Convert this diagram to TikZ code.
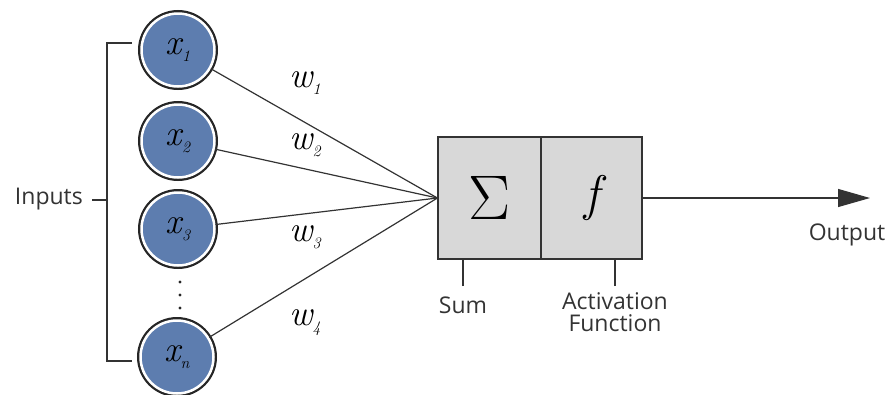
\documentclass[tikz,border=0pt]{standalone}
\usepackage{fontspec}
\newfontfamily\lsans{Open Sans}
\usetikzlibrary{arrows.meta}
\definecolor{nodeblue}{RGB}{93,125,175}
\definecolor{boxgray}{RGB}{216,216,216}
\definecolor{linegray}{RGB}{51,51,51}
\newcommand\vsub[2]{{\rmfamily\itshape\fontsize{36}{36}\selectfont #1\raisebox{-7pt}{\fontsize{16}{16}\selectfont #2}}}
\begin{document}
\begin{tikzpicture}[x=1pt,y=-1pt,
  inp/.style={circle, minimum size=73pt, inner sep=0pt, fill=nodeblue, draw=white, line width=2.5pt, preaction={draw=black!85, line width=7pt}},
  conn/.style={draw=linegray, line width=1.2pt},
  lbl/.style={font=\lsans\fontsize{23}{22}\selectfont, text=black!80, inner sep=0pt, align=center},
  wlbl/.style={inner sep=0pt},
  dot/.style={circle, fill=black!85, inner sep=0pt, minimum size=3.2pt},
  half/.style={rectangle, fill=boxgray, draw=linegray, line width=1.2pt, minimum height=122pt, inner sep=0pt}]
\useasboundingbox (0,0) rectangle (893,394);
% inputs
\node[inp] (x1) at (178,50) {\vsub{x}{1}};
\node[inp] (x2) at (178,141) {\vsub{x}{2}};
\node[inp] (x3) at (178,229) {\vsub{x}{3}};
\node[inp] (xn) at (177,357) {\vsub{x}{n}};
\node[dot] (d1) at (180,282) {};
\node[dot] (d2) at (180,295) {};
\node[dot] (d3) at (180,308) {};
% bracket
\coordinate (btr) at (132,43);
\coordinate (bt) at (107,43);
\coordinate (bb) at (107,361);
\coordinate (bbr) at (132,361);
\draw[conn] (btr) -- (bt) -- (bb) -- (bbr);
\node[lbl, anchor=east] (inputs) at (83,199) {Inputs};
\coordinate (itick) at (92,200);
\draw[conn] (itick) -- (itick -| bt);
% box
\node[half, minimum width=103pt] (sum) at (489.5,198) {\rmfamily\fontsize{63}{63}\selectfont Σ};
\node[half, minimum width=101pt] (act) at (591.5,198) {\rmfamily\itshape\fontsize{50}{50}\selectfont f};
% weights
\foreach \n in {x1,x2,x3,xn} \draw[conn] (\n) -- (sum.west);
\node[wlbl] (w1) at (305,83) {\vsub{w}{1}};
\node[wlbl] (w2) at (305,145) {\vsub{w}{2}};
\node[wlbl] (w3) at (305,237) {\vsub{w}{3}};
\node[wlbl] (w4) at (305,323) {\vsub{w}{4}};
% output
\coordinate (out) at (870,198);
\draw[conn, -{Triangle[length=32pt,width=18pt]}] (act.east) -- (out);
\node[lbl] (outlbl) at (847,235) {Output};
% labels
\coordinate (st) at (463,286);
\draw[conn] (st) -- (st |- sum.south);
\node[lbl] (sumlbl) at (463,305) {Sum};
\coordinate (at) at (615,286);
\draw[conn] (at) -- (at |- act.south);
\node[lbl] (actlbl) at (615,312) {Activation\\Function};
\end{tikzpicture}
\end{document}
